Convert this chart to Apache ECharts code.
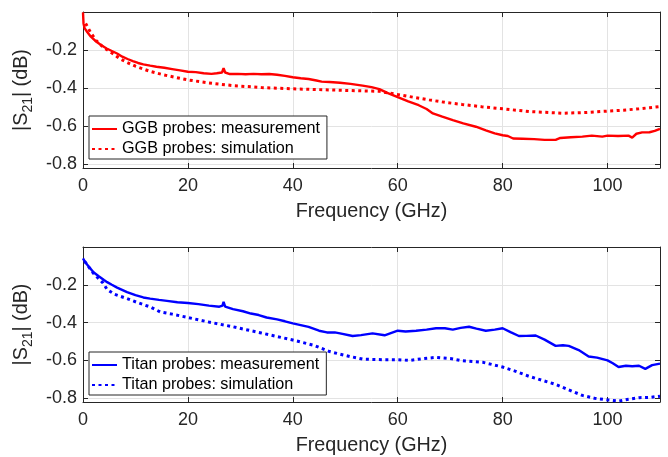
<!DOCTYPE html>
<html>
<head>
<meta charset="utf-8">
<script src="https://cdn.jsdelivr.net/npm/echarts@6.0.0/dist/echarts.min.js"></script>
<style>
  html, body { margin: 0; padding: 0; background: #fff; }
  #chart { width: 668px; height: 457px; }
</style>
</head>
<body>
<div id="chart"></div>
<script>
// values: [GHz, dB]
const ggbMeasured = [
  [0, -0.002], [0.1, -0.06], [0.3, -0.085], [0.8, -0.105], [1.5, -0.13], [2.5, -0.155],
  [3.5, -0.175], [4.5, -0.192], [5.5, -0.205], [6.5, -0.218], [7.5, -0.235], [8.5, -0.247],
  [9.5, -0.258], [10.5, -0.268], [11.5, -0.275], [12.8, -0.282], [14, -0.288], [15.5, -0.293],
  [17, -0.3], [18.5, -0.307], [20, -0.314], [21.5, -0.316], [23, -0.322], [24.5, -0.325],
  [25.5, -0.322], [26.5, -0.318], [26.8, -0.295], [27.1, -0.318], [28, -0.326], [29.5, -0.325],
  [31, -0.327], [32.5, -0.325], [34, -0.327], [35.5, -0.326], [37, -0.33], [38.5, -0.336],
  [40, -0.343], [41.5, -0.348], [43, -0.352], [44.5, -0.36], [45.5, -0.366], [47, -0.368],
  [49, -0.372], [51, -0.378], [53.3, -0.387], [55, -0.395], [56.5, -0.405], [58, -0.425],
  [60, -0.448], [62, -0.47], [64, -0.49], [65.5, -0.51], [66.7, -0.533], [68.5, -0.55],
  [70.5, -0.568], [72.5, -0.585], [74.9, -0.603], [76.8, -0.622], [78.5, -0.638], [80, -0.648],
  [81, -0.652], [82, -0.665], [83.8, -0.666], [86, -0.668], [88, -0.672], [90.1, -0.672],
  [91, -0.662], [93, -0.658], [95.2, -0.655], [97, -0.65], [99, -0.655], [100, -0.65],
  [102, -0.652], [104, -0.65], [104.7, -0.66], [105.5, -0.64], [106.6, -0.633], [108, -0.632],
  [109, -0.625], [110, -0.614]
];
const ggbSimulated = [
  [0.5, -0.06], [1.5, -0.11], [2.5, -0.15], [3.9, -0.186], [5.8, -0.221], [7, -0.245],
  [8.4, -0.265], [10, -0.285], [12.8, -0.312], [15, -0.328], [17.5, -0.343], [20, -0.357],
  [24, -0.373], [28.6, -0.387], [34, -0.397], [40, -0.404], [45, -0.408], [50, -0.412],
  [56.5, -0.417], [60, -0.434], [63, -0.448], [66, -0.462], [69, -0.475], [72.3, -0.486],
  [76, -0.498], [80, -0.509], [85, -0.523], [91.4, -0.532], [96, -0.528], [100, -0.521],
  [103, -0.516], [106, -0.509], [108, -0.503], [110, -0.497]
];
const titanMeasured = [
  [0, -0.06], [0.3, -0.075], [1, -0.1], [2, -0.134], [3, -0.155], [4, -0.175], [4.6, -0.186],
  [5.5, -0.2], [6.5, -0.215], [8.4, -0.239], [10, -0.255], [11.5, -0.267], [12.8, -0.273],
  [14.5, -0.28], [16, -0.285], [18, -0.292], [20, -0.296], [22, -0.302], [24, -0.31],
  [26, -0.316], [26.6, -0.31], [26.8, -0.29], [27.1, -0.315], [28.6, -0.329], [30.5, -0.34],
  [32, -0.352], [33.5, -0.36], [35, -0.373], [37, -0.383], [38.5, -0.393], [40, -0.404],
  [41.5, -0.413], [43, -0.423], [45, -0.443], [46.5, -0.452], [48, -0.452], [49, -0.457],
  [51.4, -0.471], [53, -0.466], [55.2, -0.457], [57.5, -0.467], [60, -0.443], [61.5, -0.447],
  [63.5, -0.443], [65.5, -0.437], [67.3, -0.43], [69, -0.43], [70.5, -0.437], [72, -0.428],
  [73.6, -0.422], [75, -0.432], [76.8, -0.443], [78.5, -0.437], [80, -0.43], [81.5, -0.45],
  [83.1, -0.471], [84.5, -0.47], [86.3, -0.468], [88, -0.49], [90.1, -0.523], [91.5, -0.52],
  [92.6, -0.523], [94.5, -0.545], [96.4, -0.579], [98, -0.585], [100, -0.6], [101, -0.615],
  [102.1, -0.635], [103.5, -0.628], [104.7, -0.631], [106, -0.628], [107.2, -0.645],
  [108.5, -0.625], [110, -0.617]
];
const titanSimulated = [
  [0.3, -0.075], [2, -0.14], [3.8, -0.19], [4.6, -0.225], [6, -0.25], [8.4, -0.273],
  [10.5, -0.295], [12.8, -0.317], [14.7, -0.343], [17, -0.355], [20, -0.373], [24, -0.397],
  [28.6, -0.422], [34, -0.455], [40, -0.492], [44, -0.52], [47, -0.553], [49, -0.567],
  [51, -0.58], [53.3, -0.593], [57, -0.596], [60, -0.596], [62.2, -0.6], [65, -0.59],
  [67.3, -0.584], [70, -0.59], [72.3, -0.602], [76.2, -0.61], [80, -0.635], [82.5, -0.658],
  [85, -0.684], [87.5, -0.705], [90.1, -0.727], [92.5, -0.755], [95.2, -0.785], [97.5, -0.8],
  [100, -0.809], [102.1, -0.815], [104, -0.805], [106, -0.797], [108, -0.796], [110, -0.789]
];
const yTicks = [-0.8, -0.6, -0.4, -0.2];
const legendTop = ['GGB probes: measurement', 'GGB probes: simulation'];
const legendBottom = ['Titan probes: measurement', 'Titan probes: simulation'];

const FONT = 'Liberation Sans, Arial, Helvetica, sans-serif';
const AXIS_COLOR = '#262626';
const GRID_COLOR = '#e3e3e3';

function xAxes(gridIndex) {
  const common = {
    type: 'value', gridIndex, min: 0, max: 110, interval: 20,
    axisLine: { onZero: false, lineStyle: { color: AXIS_COLOR, width: 1 } },
    axisTick: { inside: true, length: 5, lineStyle: { color: AXIS_COLOR } }
  };
  return [
    Object.assign({}, common, {
      position: 'bottom',
      name: 'Frequency (GHz)', nameLocation: 'middle', nameGap: 34,
      nameTextStyle: { fontFamily: FONT, fontSize: 19.8, color: AXIS_COLOR },
      axisLabel: { fontFamily: FONT, fontSize: 18, color: AXIS_COLOR, margin: 9, showMaxLabel: false },
      splitLine: { show: true, lineStyle: { color: GRID_COLOR, width: 1 } }
    }),
    Object.assign({}, common, {
      position: 'top',
      axisLabel: { show: false },
      splitLine: { show: false }
    })
  ];
}

function yAxes(gridIndex) {
  const common = {
    type: 'value', gridIndex, min: -0.82, max: 0,
    axisLine: { show: true, onZero: false, lineStyle: { color: AXIS_COLOR, width: 1 } },
    axisTick: { show: true, inside: true, length: 5, customValues: yTicks, lineStyle: { color: AXIS_COLOR } }
  };
  return [
    Object.assign({}, common, {
      position: 'left',
      name: '{b||S}{sub|21}{b|| (dB)}', nameLocation: 'middle', nameGap: 35,
      nameTextStyle: {
        fontFamily: FONT, color: AXIS_COLOR,
        rich: {
          b: { fontFamily: FONT, fontSize: 19.8, color: AXIS_COLOR, lineHeight: 20, verticalAlign: 'top' },
          sub: { fontFamily: FONT, fontSize: 14, color: AXIS_COLOR, lineHeight: 34, verticalAlign: 'middle' }
        }
      },
      axisLabel: {
        fontFamily: FONT, fontSize: 18, color: AXIS_COLOR, margin: 6,
        customValues: yTicks, formatter: v => v.toFixed(1)
      },
      splitLine: { show: true, lineStyle: { color: GRID_COLOR, width: 1 } }
    }),
    Object.assign({}, common, {
      position: 'right',
      axisLabel: { show: false },
      splitLine: { show: false }
    })
  ];
}

function legend(names, top) {
  return {
    data: names, orient: 'vertical', left: 89, top,
    backgroundColor: '#fff', borderColor: AXIS_COLOR, borderWidth: 1,
    padding: [5, 7, 2, 2], itemWidth: 25, itemHeight: 14, itemGap: 4,
    itemStyle: { opacity: 0 },
    textStyle: { fontFamily: FONT, fontSize: 16.2, color: '#000', lineHeight: 16 }
  };
}

function lineSeries(name, data, color, dotted, axisIndex) {
  return {
    name, type: 'line', data, symbol: 'none', animation: false,
    xAxisIndex: axisIndex, yAxisIndex: axisIndex,
    lineStyle: dotted
      ? { color, width: 3, type: [3, 3.5] }
      : { color, width: 2.4 },
    itemStyle: { color },
    z: dotted ? 3 : 4
  };
}

const chart = echarts.init(document.getElementById('chart'));
chart.setOption({
  animation: false,
  backgroundColor: '#fff',
  grid: [
    { left: 83, right: 8, top: 12, height: 156 },
    { left: 83, right: 8, top: 247, height: 156 }
  ],
  xAxis: xAxes(0).concat(xAxes(1)),
  yAxis: yAxes(0).concat(yAxes(1)),
  legend: [legend(legendTop, 116), legend(legendBottom, 352)],
  series: [
    lineSeries(legendTop[0], ggbMeasured, '#ff0000', false, 0),
    lineSeries(legendTop[1], ggbSimulated, '#ff0000', true, 0),
    lineSeries(legendBottom[0], titanMeasured, '#0000ff', false, 2),
    lineSeries(legendBottom[1], titanSimulated, '#0000ff', true, 2)
  ]
});
</script>
</body>
</html>
